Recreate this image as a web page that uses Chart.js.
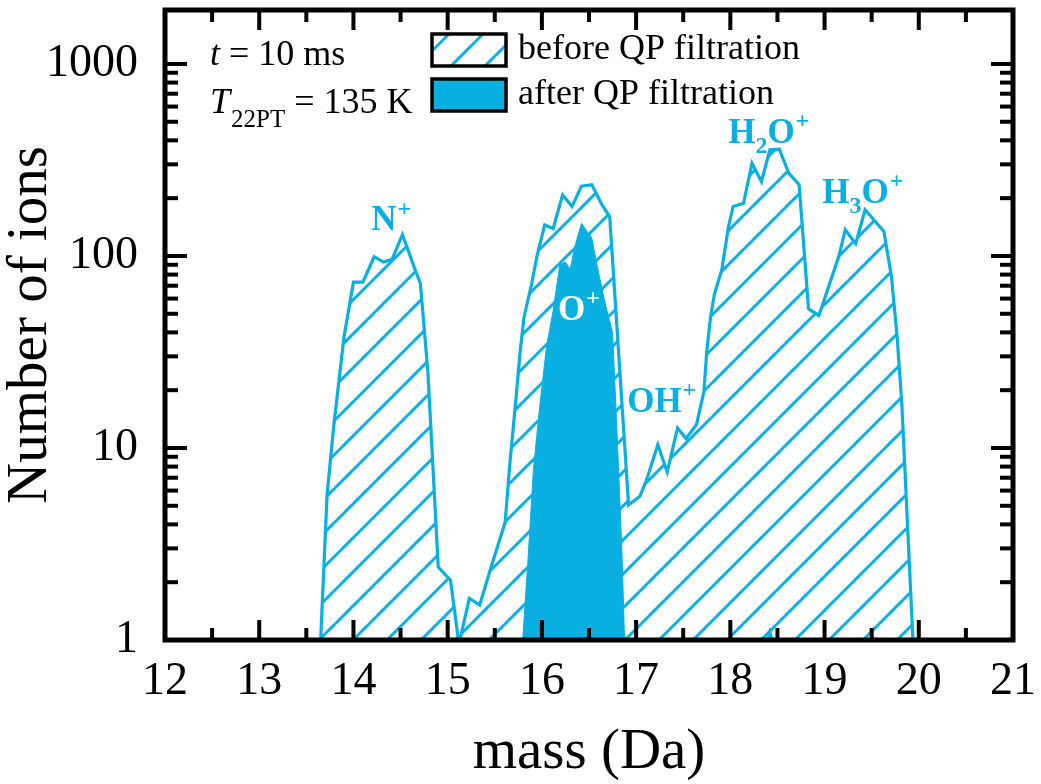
<!DOCTYPE html>
<html>
<head>
<meta charset="utf-8">
<script src="https://cdn.jsdelivr.net/npm/chart.js@4/dist/chart.umd.min.js"></script>
<style>
html,body{margin:0;padding:0;background:#fff;}
canvas{display:block;}
</style>
</head>
<body>
<canvas id="c" width="1041" height="784"></canvas>
<script>
// ---- data ----
const beforeMass = [13.65, 13.72, 13.79, 13.90, 14.00, 14.10, 14.22, 14.32, 14.41, 14.52, 14.65, 14.71, 14.79, 14.90, 15.03, 15.12, 15.23, 15.34, 15.45, 15.61, 15.66, 15.72, 15.77, 15.81, 15.89, 15.95, 16.03, 16.12, 16.22, 16.32, 16.42, 16.53, 16.64, 16.72, 16.92, 17.04, 17.11, 17.23, 17.33, 17.44, 17.53, 17.64, 17.72, 17.75, 17.79, 17.83, 17.91, 17.98, 18.03, 18.14, 18.23, 18.33, 18.42, 18.52, 18.62, 18.73, 18.83, 18.94, 19.15, 19.22, 19.33, 19.43, 19.63, 19.71, 19.77, 19.82, 19.87, 19.94];
const beforeCounts = [0.95, 5.7, 12.9, 38, 73, 73, 99, 93, 96, 129, 86, 72, 25, 2.4, 2.05, 0.95, 1.65, 1.52, 2.3, 4.1, 8.3, 17, 32, 48, 71, 101, 145, 139, 208, 181, 231, 235, 184, 160, 5.05, 5.6, 6.8, 10.4, 7.5, 12.7, 11.2, 13.2, 19.7, 32, 48, 63, 85, 142, 181, 188, 304, 244, 357, 360, 270, 235, 53, 49, 99, 137, 116, 174, 134, 78, 38, 17, 5.15, 0.95];
const afterMass = [15.79, 15.85, 15.91, 15.98, 16.05, 16.12, 16.19, 16.25, 16.30, 16.35, 16.42, 16.48, 16.53, 16.58, 16.67, 16.75, 16.80, 16.85, 16.88, 18.36, 18.42, 18.48];
const afterCounts = [0.9, 2.5, 7.7, 17, 34, 52, 90, 93, 85, 112, 148, 134, 124, 92, 57, 40, 11.4, 2.8, 0.9, 0.9, 1.15, 0.9];

const xTickValues = [12, 13, 14, 15, 16, 17, 18, 19, 20, 21];
const yTickValues = [1, 10, 100, 1000];

const ionText = ['N+', 'O+', 'OH+', 'H2O+', 'H3O+'];
const ionMass = [14.19, 16.17, 16.905, 17.977, 18.975];
const ionCount = [136, 46.4, 15.4, 387, 189];
const ionWhite = [false, true, false, false, false];

const legendLabels = ['before QP filtration', 'after QP filtration'];
const xTitle = 'mass (Da)';
const yTitle = 'Number of ions';

// ---- style ----
const BLUE = '#0AAFE1';
const FONT = "'Liberation Serif', 'Times New Roman', serif";

function makeHatch(color) {
  const s = 34, ph = 7;
  const c = document.createElement('canvas');
  c.width = s; c.height = s;
  const g = c.getContext('2d');
  g.strokeStyle = color; g.lineWidth = 3;
  for (const k of [ph - s, ph, ph + s, ph + 2 * s]) {
    g.beginPath();
    g.moveTo(k + 6, -6);
    g.lineTo(k - s - 6, s + 6);
    g.stroke();
  }
  return g.createPattern(c, 'repeat');
}
const hatch = makeHatch(BLUE);

const afterData = afterMass.map((m, i) => ({x: m, y: afterCounts[i]}));
const beforeData = beforeMass.map((m, i) => ({x: m, y: beforeCounts[i]}));

// draw text with digits as subscripts and '+' as superscript
function drawChem(ctx, text, x, y, size, bold, color) {
  const w = bold ? 'bold ' : '';
  ctx.fillStyle = color;
  ctx.textBaseline = 'alphabetic';
  ctx.textAlign = 'left';
  let cx = x;
  for (const ch of text) {
    if (/[0-9]/.test(ch)) {
      ctx.font = w + Math.round(size * 0.68) + 'px ' + FONT;
      ctx.fillText(ch, cx, y + size * 0.28);
      cx += ctx.measureText(ch).width;
    } else if (ch === '+') {
      ctx.font = w + Math.round(size * 0.68) + 'px ' + FONT;
      ctx.fillText(ch, cx + 1, y - size * 0.42);
      cx += ctx.measureText(ch).width;
    } else {
      ctx.font = w + size + 'px ' + FONT;
      ctx.fillText(ch, cx, y);
      cx += ctx.measureText(ch).width;
    }
  }
}

function noPad(s) { s.paddingTop = 0; s.paddingBottom = 0; s.paddingLeft = 0; s.paddingRight = 0; }

const decor = {
  id: 'decor',
  afterDraw(chart) {
    const ctx = chart.ctx;
    const xs = chart.scales.x, ys = chart.scales.y;
    const {left, right, top, bottom} = chart.chartArea;
    ctx.save();

    // ion labels
    ionText.forEach((t, i) => {
      drawChem(ctx, t, xs.getPixelForValue(ionMass[i]), ys.getPixelForValue(ionCount[i]), 35, true, ionWhite[i] ? '#ffffff' : BLUE);
    });

    // ticks (inside, all four sides)
    ctx.strokeStyle = '#000';
    ctx.lineWidth = 4;
    ctx.lineCap = 'butt';
    const seg = (x1, y1, x2, y2) => { ctx.beginPath(); ctx.moveTo(x1, y1); ctx.lineTo(x2, y2); ctx.stroke(); };
    const xMaj = 20, xMin = 12, yMaj = 22, yMin = 13;
    xTickValues.forEach(v => {
      const p = xs.getPixelForValue(v);
      seg(p, bottom, p, bottom - xMaj); seg(p, top, p, top + xMaj);
      if (v + 0.5 < xs.max) {
        const q = xs.getPixelForValue(v + 0.5);
        seg(q, bottom, q, bottom - xMin); seg(q, top, q, top + xMin);
      }
    });
    yTickValues.forEach(d => {
      const p = ys.getPixelForValue(d);
      seg(left, p, left + yMaj, p); seg(right, p, right - yMaj, p);
      for (let m = 2; m <= 9; m++) {
        const v = d * m;
        if (v > ys.max) break;
        const q = ys.getPixelForValue(v);
        seg(left, q, left + yMin, q); seg(right, q, right - yMin, q);
      }
    });
    // frame
    ctx.lineWidth = 5;
    ctx.strokeRect(left, top, right - left, bottom - top);

    // info texts
    ctx.fillStyle = '#000';
    ctx.textBaseline = 'alphabetic';
    ctx.textAlign = 'left';
    const tx = left + 45;
    ctx.font = 'italic 36px ' + FONT;
    ctx.fillText('t', tx, top + 55);
    let w = ctx.measureText('t').width;
    ctx.font = '36px ' + FONT;
    ctx.fillText(' = 10 ms', tx + w, top + 55);
    ctx.font = 'italic 36px ' + FONT;
    ctx.fillText('T', tx, top + 103);
    w = ctx.measureText('T').width;
    ctx.font = '25px ' + FONT;
    ctx.fillText('22PT', tx + w + 1, top + 117);
    w += 1 + ctx.measureText('22PT').width;
    ctx.font = '36px ' + FONT;
    ctx.fillText(' = 135 K', tx + w, top + 103);

    // legend
    const bx = left + 267, bw = 74, bh = 32;
    const by = [top + 24, top + 69];
    ctx.fillStyle = hatch;
    ctx.fillRect(bx, by[0], bw, bh);
    ctx.fillStyle = BLUE;
    ctx.fillRect(bx, by[1], bw, bh);
    ctx.lineWidth = 3.5;
    ctx.strokeStyle = '#000';
    ctx.strokeRect(bx, by[0], bw, bh);
    ctx.strokeRect(bx, by[1], bw, bh);
    ctx.fillStyle = '#000';
    ctx.font = '36px ' + FONT;
    ctx.fillText(legendLabels[0], bx + bw + 12, by[0] + 25);
    ctx.fillText(legendLabels[1], bx + bw + 12, by[1] + 25);

    ctx.restore();
  }
};

new Chart(document.getElementById('c'), {
  type: 'line',
  data: {
    datasets: [
      {
        label: legendLabels[1],
        data: afterData,
        borderColor: BLUE,
        backgroundColor: BLUE,
        borderWidth: 1,
        pointRadius: 0,
        fill: 'start',
        tension: 0
      },
      {
        label: legendLabels[0],
        data: beforeData,
        borderColor: BLUE,
        backgroundColor: hatch,
        borderWidth: 3.2,
        borderJoinStyle: 'miter',
        pointRadius: 0,
        fill: 'start',
        tension: 0
      }
    ]
  },
  options: {
    responsive: false,
    animation: false,
    events: [],
    layout: {padding: {left: 0, top: 10, right: 28, bottom: 0}},
    plugins: {legend: {display: false}, tooltip: {enabled: false}},
    scales: {
      x: {
        type: 'linear',
        min: 12, max: 21,
        afterFit: s => { s.height = 144; noPad(s); },
        afterBuildTicks: s => { s.ticks = xTickValues.map(v => ({value: v})); },
        grid: {display: false, drawTicks: false},
        border: {display: false},
        ticks: {
          padding: 14,
          color: '#000',
          font: {family: FONT, size: 46},
          callback: v => String(v),
          maxRotation: 0, autoSkip: false
        },
        title: {display: true, text: xTitle, color: '#000', font: {family: FONT, size: 57}, padding: {top: 0, bottom: -3}}
      },
      y: {
        type: 'logarithmic',
        min: 1, max: 1910,
        afterFit: s => { s.width = 165; noPad(s); },
        afterBuildTicks: s => { s.ticks = yTickValues.map(v => ({value: v})); },
        grid: {display: false, drawTicks: false},
        border: {display: false},
        ticks: {
          padding: 27,
          color: '#000',
          font: {family: FONT, size: 46},
          callback: v => String(v),
          autoSkip: false
        },
        title: {display: true, text: yTitle, color: '#000', font: {family: FONT, size: 57}, padding: {top: -3, bottom: 0}}
      }
    }
  },
  plugins: [decor]
});
</script>
</body>
</html>
